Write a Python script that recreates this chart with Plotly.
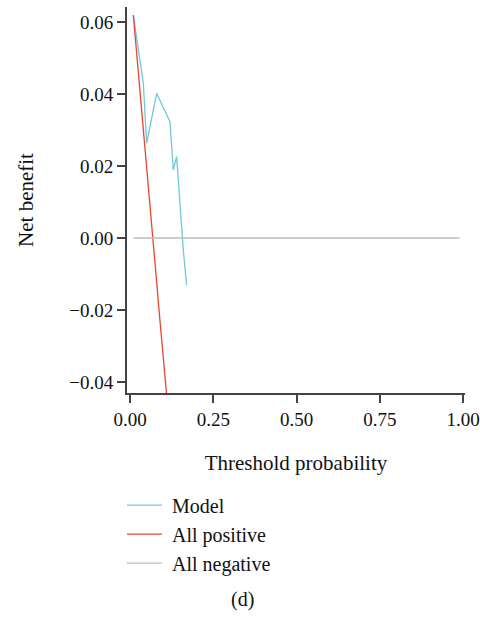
import plotly.graph_objects as go

# Data
model_x = [0.01, 0.02, 0.03, 0.04, 0.05, 0.06, 0.07, 0.08, 0.09, 0.10, 0.11, 0.12, 0.13, 0.14, 0.15, 0.16, 0.17]
model_y = [0.0619, 0.0555, 0.0490, 0.0430, 0.0263, 0.0310, 0.0356, 0.0402, 0.0382, 0.0362, 0.0342, 0.0323, 0.0189, 0.0226, 0.0097, -0.0033, -0.0131]

allpos_x = [0.01, 0.02, 0.03, 0.04, 0.05, 0.06, 0.07, 0.08, 0.09, 0.10, 0.11]
allpos_y = [0.0619, 0.0516, 0.0412, 0.0306, 0.0200, 0.0093, -0.0015, -0.0122, -0.0230, -0.0339, -0.0435]

allneg_x = [0.01, 0.99]
allneg_y = [0.0, 0.0]

series_names = ["Model", "All positive", "All negative"]

x_ticks = [0.00, 0.25, 0.50, 0.75, 1.00]
x_ticklabels = ["0.00", "0.25", "0.50", "0.75", "1.00"]
y_ticks = [-0.04, -0.02, 0.00, 0.02, 0.04, 0.06]
y_ticklabels = ["\u22120.04", "\u22120.02", "0.00", "0.02", "0.04", "0.06"]

FONT = "Liberation Serif"
AXIS_COLOR = "#444444"
TEXT_COLOR = "#111111"
PAD = "\u00a0"

fig = go.Figure()
fig.add_trace(go.Scatter(x=model_x, y=model_y, mode="lines", name=PAD + series_names[0],
                         line=dict(color="#72C7DF", width=1.3)))
fig.add_trace(go.Scatter(x=allpos_x, y=allpos_y, mode="lines", name=PAD + series_names[1],
                         line=dict(color="#E8462E", width=1.3)))
fig.add_trace(go.Scatter(x=allneg_x, y=allneg_y, mode="lines", name=PAD + series_names[2],
                         line=dict(color="#BDBDBD", width=1.3)))

fig.update_layout(
    width=480, height=618,
    margin=dict(l=127, r=15, t=7, b=225, autoexpand=False),
    paper_bgcolor="white", plot_bgcolor="white",
    font=dict(family=FONT, size=18, color=TEXT_COLOR),
    showlegend=True,
    legend=dict(x=-0.0148, xanchor="left", y=-0.240, yanchor="top",
                orientation="v", bgcolor="rgba(0,0,0,0)", itemwidth=35,
                font=dict(family=FONT, size=20, color=TEXT_COLOR)),
    xaxis=dict(range=[-0.009, 1.006], tickvals=x_ticks, ticktext=x_ticklabels,
               showgrid=False, zeroline=False, showline=True, linecolor=AXIS_COLOR,
               linewidth=2, ticks="outside", ticklen=8, tickwidth=2, tickcolor=AXIS_COLOR,
               automargin=False, tickfont=dict(family=FONT, size=19, color=TEXT_COLOR),
               title=dict(text="Threshold probability", standoff=27,
                          font=dict(family=FONT, size=21, color=TEXT_COLOR))),
    yaxis=dict(range=[-0.04306, 0.06417], tickvals=y_ticks, ticktext=y_ticklabels,
               showgrid=False, zeroline=False, showline=True, linecolor=AXIS_COLOR,
               linewidth=2, ticks="outside", ticklen=8, tickwidth=2, tickcolor=AXIS_COLOR,
               automargin=False, tickfont=dict(family=FONT, size=19, color=TEXT_COLOR),
               title=dict(text="Net benefit", standoff=30,
                          font=dict(family=FONT, size=21, color=TEXT_COLOR))),
)

fig.add_annotation(text="(d)", xref="paper", yref="paper", x=0.343, y=-0.535,
                   xanchor="center", yanchor="middle", showarrow=False,
                   font=dict(family=FONT, size=20, color=TEXT_COLOR))

fig.write_html("out.html", config={"displayModeBar": False},
               post_script="document.body.style.margin='0';")
